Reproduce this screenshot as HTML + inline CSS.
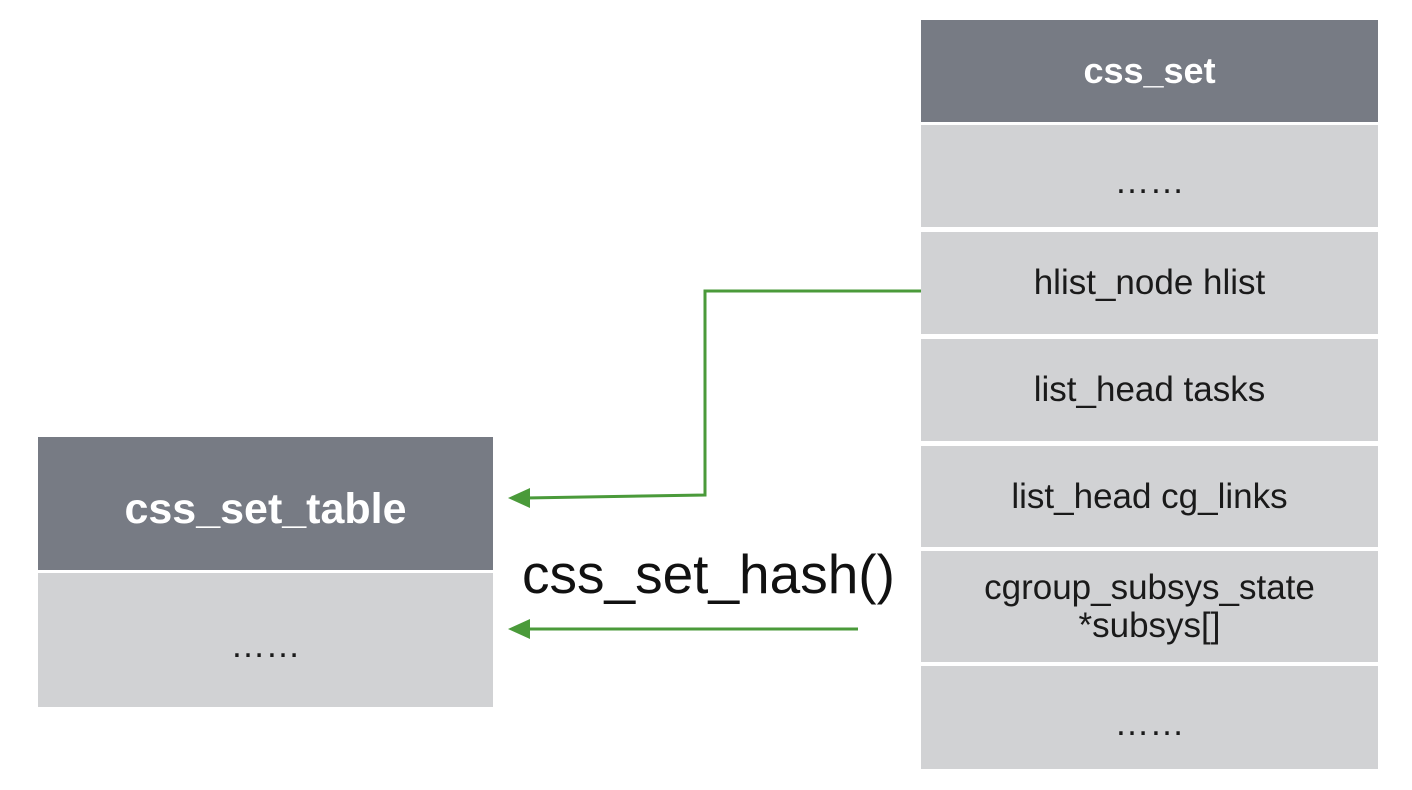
<!DOCTYPE html>
<html><head><style>
body{margin:0;width:1412px;height:790px;background:#fff;position:relative;font-family:"Liberation Sans",sans-serif;overflow:hidden}
.b{position:absolute;display:flex;align-items:center;justify-content:center;text-align:center;color:#1a1a1a;font-size:35px;background:#d1d2d4;line-height:38px}
.h{background:#777b84;color:#fff;font-weight:bold;font-size:36px}
.d{padding-top:12px;box-sizing:border-box}
</style></head><body>
<div class="b h" style="left:921px;top:20px;width:457px;height:102px">css_set</div>
<div class="b d" style="left:921px;top:125px;width:457px;height:102px">……</div>
<div class="b" style="left:921px;top:232px;width:457px;height:102px">hlist_node hlist</div>
<div class="b" style="left:921px;top:339px;width:457px;height:102px">list_head tasks</div>
<div class="b" style="left:921px;top:446px;width:457px;height:101px">list_head cg_links</div>
<div class="b" style="left:921px;top:551px;width:457px;height:111px">cgroup_subsys_state<br>*subsys[]</div>
<div class="b d" style="left:921px;top:666px;width:457px;height:103px">……</div>
<div class="b h" style="left:38px;top:437px;width:455px;height:133px;font-size:43px;padding-top:10px;box-sizing:border-box">css_set_table</div>
<div class="b d" style="left:38px;top:573px;width:455px;height:134px">……</div>
<div style="position:absolute;left:522px;top:542px;font-size:55px;color:#111">css_set_hash()</div>
<svg width="1412" height="790" style="position:absolute;left:0;top:0">
<g stroke="#4a9a3a" stroke-width="3" fill="none">
<polyline points="921,291 705,291 705,495 525,498"/>
<line x1="858" y1="629" x2="525" y2="629"/>
</g>
<g fill="#4a9a3a">
<polygon points="508,498 530,488 530,508"/>
<polygon points="508,629 530,619 530,639"/>
</g>
</svg>
</body></html>
